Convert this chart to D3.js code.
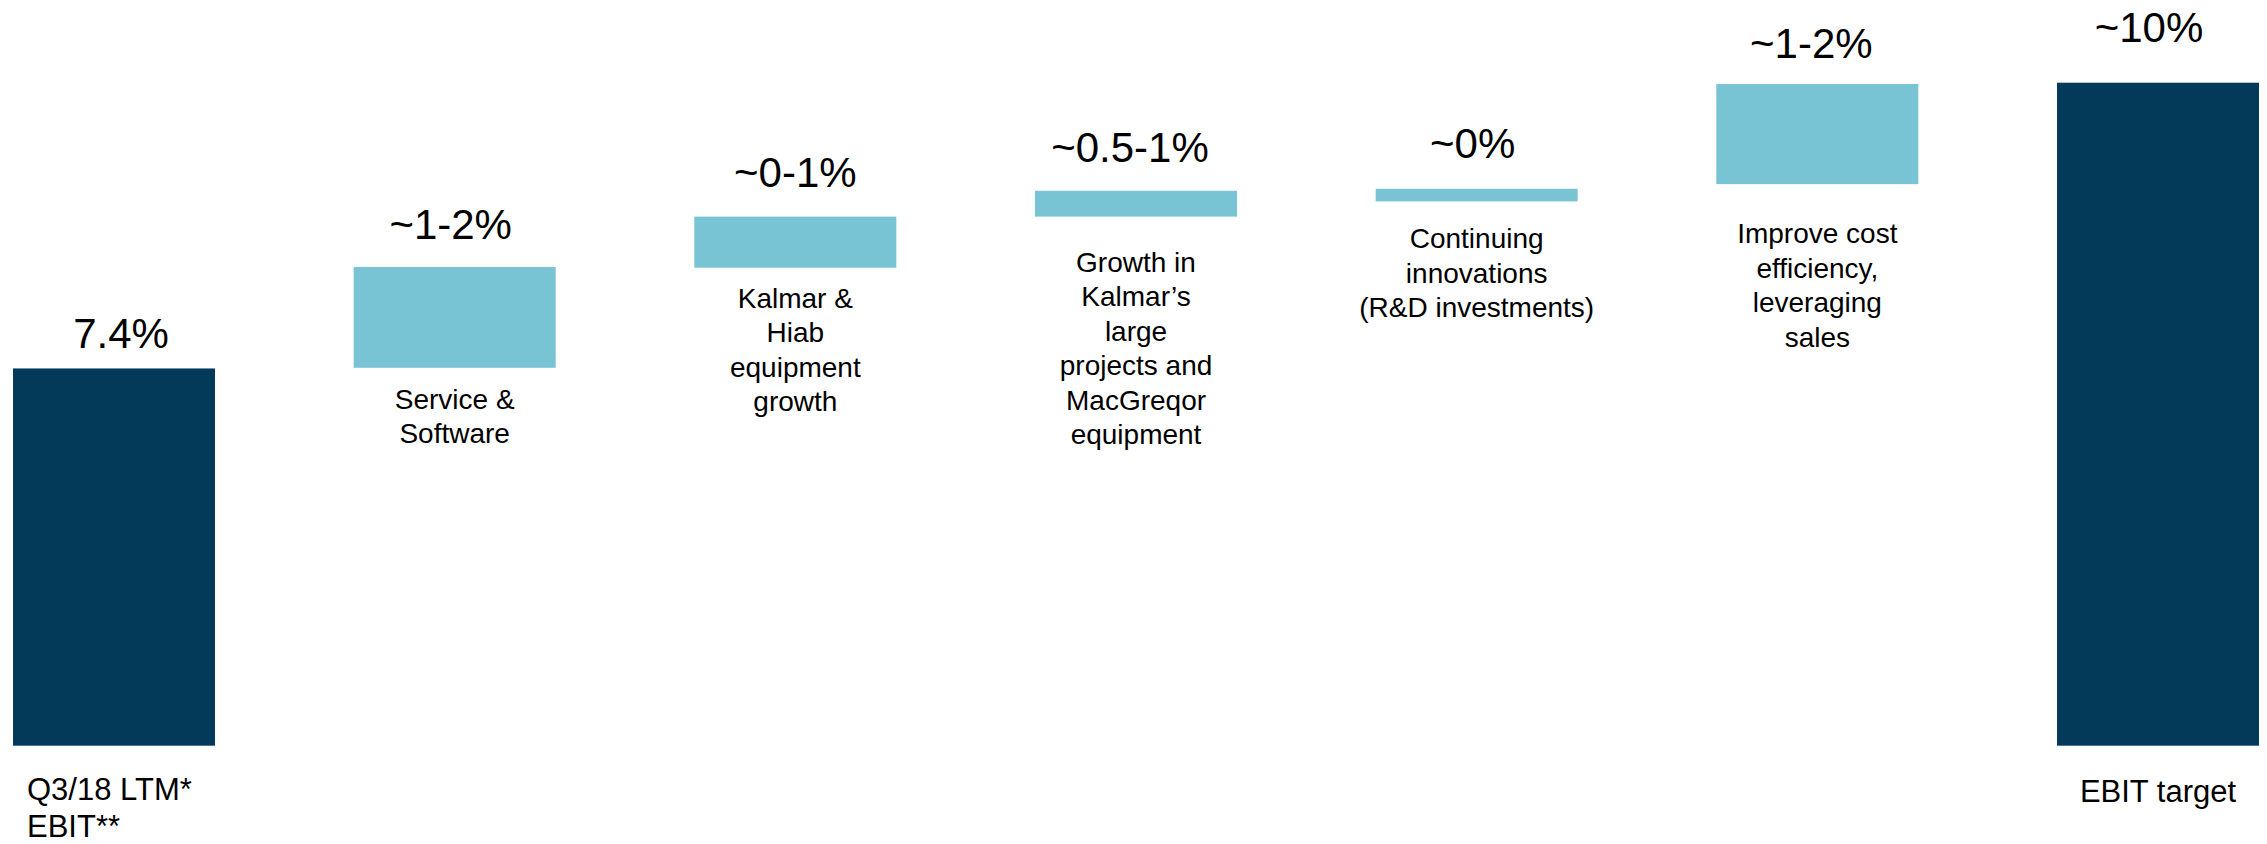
<!DOCTYPE html>
<html>
<head>
<meta charset="utf-8">
<script src="https://cdn.jsdelivr.net/npm/d3@7/dist/d3.min.js"></script>
<style>
  html, body { margin: 0; padding: 0; background: #fff; }
  text { font-family: "Liberation Sans", Arial, Helvetica, sans-serif; fill: #000; }
</style>
</head>
<body>
<div id="chart"></div>
<script>
// waterfall data (heights, target bar = 10)
const categories = [
  ['Q3/18 LTM*', 'EBIT**'],
  ['Service &', 'Software'],
  ['Kalmar &', 'Hiab', 'equipment', 'growth'],
  ['Growth in', 'Kalmar\u2019s', 'large', 'projects and', 'MacGreqor', 'equipment'],
  ['Continuing', 'innovations', '(R&D investments)'],
  ['Improve cost', 'efficiency,', 'leveraging', 'sales'],
  ['EBIT target']
];
const valueLabels = ['7.4%', '~1-2%', '~0-1%', '~0.5-1%', '~0%', '~1-2%', '~10%'];
const barStart = [0, 5.70, 7.21, 7.98, 8.21, 8.47, 0];
const barEnd = [5.69, 7.22, 7.98, 8.37, 8.40, 9.98, 10];
const barKind = ['total', 'step', 'step', 'step', 'step', 'step', 'total'];

// layout tweaks for the text boxes (not data)
const valueGap = [20, 28, 30, 29, 31, 26, 41];
const valueDx = [7, -4, 0, -6, -4, -6, -9];
const labelGap = [54, 41, 40, 55, 47, 59, 56];

const width = 2267;
const height = 844;

const svg = d3.select('#chart')
  .append('svg')
  .attr('width', width)
  .attr('height', height);

svg.append('rect')
  .attr('width', width)
  .attr('height', height)
  .attr('fill', '#fff');

const idx = categories.map((d, i) => i);

const x = d3.scaleBand()
  .domain(idx)
  .range([13, 2259])
  .paddingInner(0.407)
  .paddingOuter(0);

const y = d3.scaleLinear()
  .domain([0, 10])
  .range([745.7, 82.7]);

const color = { total: '#033A5A', step: '#79C4D4' };

// bars
svg.selectAll('rect.bar')
  .data(idx)
  .enter()
  .append('rect')
  .attr('class', 'bar')
  .attr('x', i => x(i))
  .attr('width', x.bandwidth())
  .attr('y', i => y(barEnd[i]))
  .attr('height', i => y(barStart[i]) - y(barEnd[i]))
  .attr('fill', i => color[barKind[i]]);

// value labels above bars
svg.selectAll('text.value')
  .data(idx)
  .enter()
  .append('text')
  .attr('class', 'value')
  .attr('x', i => x(i) + x.bandwidth() / 2 + valueDx[i])
  .attr('y', i => y(barEnd[i]) - valueGap[i])
  .attr('text-anchor', 'middle')
  .style('font-size', '42px')
  .text(i => valueLabels[i]);

// category labels below bars
const labels = svg.selectAll('text.cat')
  .data(idx)
  .enter()
  .append('text')
  .attr('class', 'cat')
  .attr('text-anchor', i => i === 0 ? 'start' : 'middle')
  .attr('transform', i => {
    const cx = i === 0 ? x(i) + 14 : x(i) + x.bandwidth() / 2;
    return 'translate(' + cx + ', ' + (y(barStart[i]) + labelGap[i]) + ')';
  })
  .style('font-size', i => barKind[i] === 'total' ? '31px' : '28px');

labels.each(function (i) {
  const lh = barKind[i] === 'total' ? 37 : 34.5;
  d3.select(this).selectAll('tspan')
    .data(categories[i])
    .enter()
    .append('tspan')
    .attr('x', 0)
    .attr('y', (d, k) => k * lh)
    .text(d => d);
});
</script>
</body>
</html>
